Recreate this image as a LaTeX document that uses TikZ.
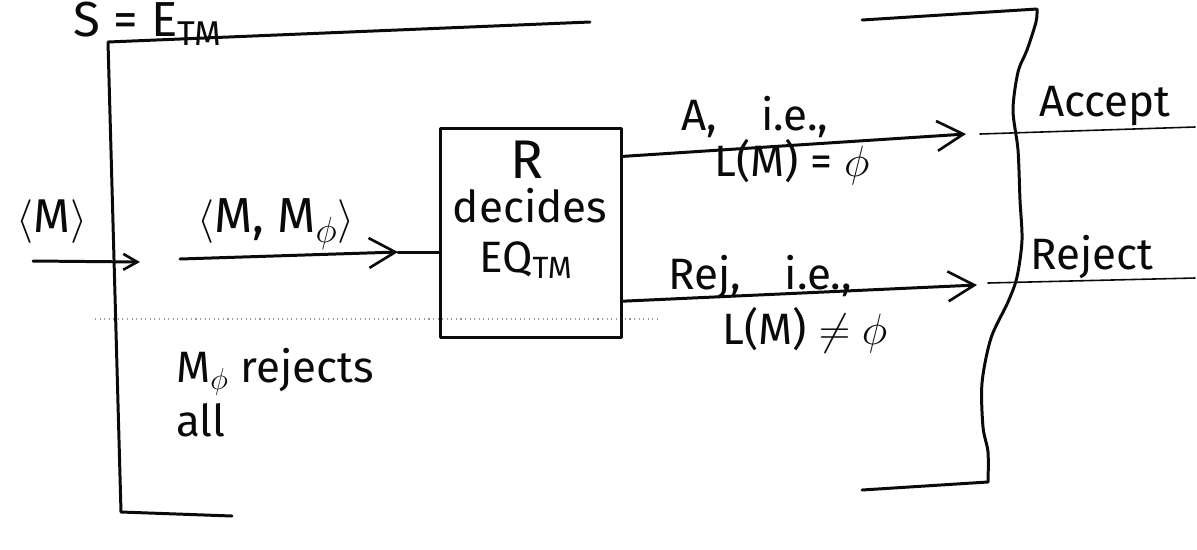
\documentclass[tikz,border=0pt]{standalone}
\usepackage{fontspec}
\setmainfont{Fira Sans}
\usetikzlibrary{arrows.meta,calc,positioning}
\definecolor{InkClr}{rgb}{0.04,0.04,0.04}
\definecolor{ScanClr}{rgb}{0.6,0.6,0.6}

\tikzset{
  ink/.style={line width=1.7pt,color=InkClr,line cap=round,line join=round},
  thin ink/.style={line width=0.9pt,color=InkClr,line cap=round},
  barb/.style={-{Straight Barb[length=15pt,width=17pt,line width=1.5pt]}},
  small barb/.style={-{Straight Barb[length=8pt,width=9pt,line width=1.5pt]}},
  hand/.style={font=\fontsize{25}{29}\selectfont,text=InkClr,inner sep=0pt}
}

\begin{document}
\begin{tikzpicture}[x=0.02cm,y=-0.02cm]
\useasboundingbox (0,0) rectangle (1197,549);

% S = E_TM and the outer machine
\node[hand,font=\fontsize{28}{30}\selectfont,anchor=north] (title) at (148,2) {S = E\textsubscript{TM}};
\draw[ink] (590,22) -- (108,42) -- (121,512) -- (232,516);
\draw[ink] (862,20) -- (1037,9)
  plot[smooth] coordinates {(1037,9) (1036,22) (1027,50) (1018,72) (1013,110)
    (1018,150) (1020,200) (1022,240) (1017,277) (1008,302) (991,338)
    (982,383) (983,427) (988,452) (988,482)}
  -- (862,490);

% scan dots
\draw[ScanClr,line width=0.6pt,dotted] (95,319) -- (660,319);

% the decider R
\node[draw,ink,minimum width=3.64cm,minimum height=4.2cm] (rbox) at (531,233) {};
\node[hand,font=\fontsize{31}{33}\selectfont] (rname) at (527,160) {R};
\node[hand] (rdecides) at (530,206) {decides};
\node[hand] (rlang) at (526,260) {EQ\textsubscript{TM}};

% input
\node[hand,font=\fontsize{27}{30}\selectfont] (m) at (52,222) {\(\langle\)M\(\rangle\)};
\coordinate (min) at (33,261);
\coordinate (mend) at (140,262);
\draw[ink,small barb] (min) -- (mend);

\node[hand,font=\fontsize{28}{30}\selectfont] (pair) at (276,224) {\(\langle\)M, M\(_\phi\)\(\rangle\)};
\coordinate (pin) at (180,259);
\coordinate (ptip) at (398,252);
\draw[ink,barb] (pin) -- (ptip);
\draw[ink] (ptip) -- (ptip -| rbox.west);

\node[hand] (mphi) at (275,372) {M\(_\phi\) rejects};
\node[hand,below=4pt of mphi.south west,anchor=north west] (all) {all};

% accept
\coordinate (astart) at ($(rbox.north east)!0.14!(rbox.south east)$);
\coordinate (atip) at (966,134);
\coordinate (ago) at (980,134);
\coordinate (aend) at (1195,127);
\draw[ink,barb] (astart) -- (atip);
\draw[thin ink] (ago) -- (aend);
\node[hand] (alab) at (755,117) {A,\quad i.e.,};
\node[hand] (acond) at (792,162) {L(M) = \(\phi\)};
\node[hand] (accept) at (1105,106) {Accept};

% reject
\coordinate (rstart) at ($(rbox.north east)!0.82!(rbox.south east)$);
\coordinate (rtip) at (977,285);
\coordinate (rgo) at (988,283);
\coordinate (rend) at (1195,278);
\draw[ink,barb] (rstart) -- (rtip);
\draw[thin ink] (rgo) -- (rend);
\node[hand] (rlab) at (760,277) {Rej,\quad i.e.,};
\node[hand] (rcond) at (805,330) {L(M) \(\neq\) \(\phi\)};
\node[hand] (reject) at (1092,257) {Reject};

\end{tikzpicture}
\end{document}
